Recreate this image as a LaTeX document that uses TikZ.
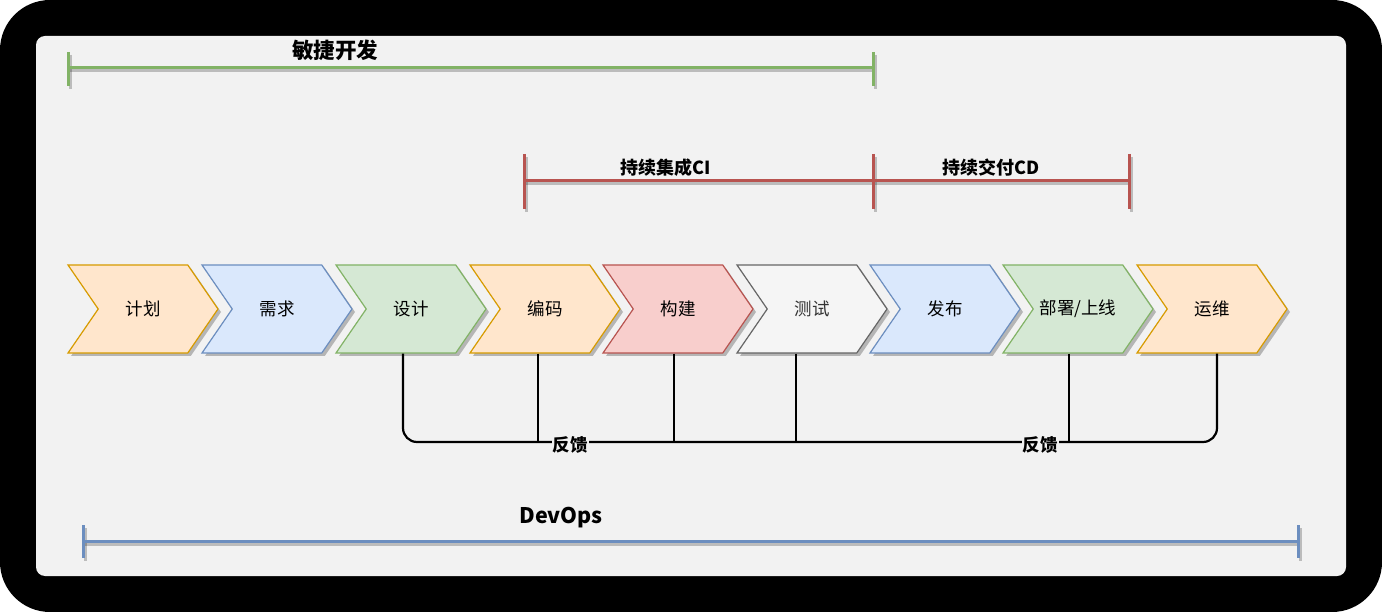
\documentclass[tikz,border=0pt]{standalone}
\usepackage{fontspec}
\setmainfont{Noto Sans CJK SC}
\usetikzlibrary{shapes.symbols,shadows}
\definecolor{bgc}{HTML}{F2F2F2}
\definecolor{orF}{HTML}{FFE6CC}\definecolor{orD}{HTML}{D79B00}
\definecolor{blF}{HTML}{DAE8FC}\definecolor{blD}{HTML}{6C8EBF}
\definecolor{grF}{HTML}{D5E8D4}\definecolor{grD}{HTML}{82B366}
\definecolor{rdF}{HTML}{F8CECC}\definecolor{rdD}{HTML}{B85450}
\definecolor{gyF}{HTML}{F5F5F5}\definecolor{gyD}{HTML}{666666}
\tikzset{
  chev/.style={signal, signal to=east, signal from=west, signal pointer angle=111,
    minimum width=150pt, minimum height=88pt, inner sep=0pt, line width=1.2pt,
    font=\fontsize{17.5}{17.5}\selectfont,
    drop shadow={shadow xshift=3pt, shadow yshift=-3pt, opacity=0.25, fill=black}},
  orC/.style={chev, fill=orF, draw=orD},
  blC/.style={chev, fill=blF, draw=blD},
  grC/.style={chev, fill=grF, draw=grD},
  rdC/.style={chev, fill=rdF, draw=rdD},
  gyC/.style={chev, fill=gyF, draw=gyD, text=black!80},
  title/.style={font=\fontsize{21.5}{21.5}\selectfont\bfseries, inner sep=1pt},
  subtitle/.style={font=\fontsize{18}{18}\selectfont\bfseries, inner sep=1pt},
  fb/.style={line width=2.2pt, black},
  fblabel/.style={fill=bgc, font=\fontsize{17.5}{17.5}\selectfont\bfseries, inner sep=1pt},
  span/.style={line width=3pt},
  shd/.style={line width=3pt, black, opacity=0.22},
}
\begin{document}
\begin{tikzpicture}[x=1pt,y=-1pt]
\useasboundingbox (0,0) rectangle (1382,612);
\fill[white] (0,0) rectangle (1382,612);
\fill[black, rounded corners=50pt] (0,0) rectangle (1382,612);
\fill[bgc, rounded corners=9pt] (36,36) rectangle (1346,576);

% spans
\coordinate (agA) at (68,68); \coordinate (agB) at (873,68);
\coordinate (ciA) at (524,181); \coordinate (ciB) at (873,181);
\coordinate (cdB) at (1129,181);
\coordinate (doA) at (83,541); \coordinate (doB) at (1298,541);

\foreach \a/\b in {agA/agB,ciA/cdB,doA/doB}{
  \draw[shd] ([shift={(2pt,-3pt)}]\a) -- ([shift={(2pt,-3pt)}]\b);}
\draw[shd] ([shift={(2pt,-3pt)}]agA) ++(0,-16) -- ++(0,34);
\draw[shd] ([shift={(2pt,-3pt)}]agB) ++(0,-16) -- ++(0,34);
\foreach \c in {ciA,ciB,cdB}{\draw[shd] ([shift={(2pt,-3pt)}]\c) ++(0,-27) -- ++(0,55);}
\draw[shd] ([shift={(2pt,-3pt)}]doA) ++(0,-16) -- ++(0,33);
\draw[shd] ([shift={(2pt,-3pt)}]doB) ++(0,-16) -- ++(0,33);

\draw[span, grD] (agA) -- (agB);
\draw[span, grD] (agA) ++(0,-16) -- ++(0,34);
\draw[span, grD] (agB) ++(0,-16) -- ++(0,34);
\draw[span, rdD] (ciA) -- (cdB);
\foreach \c in {ciA,ciB,cdB}{\draw[span, rdD] (\c) ++(0,-27) -- ++(0,55);}
\draw[span, blD] (doA) -- (doB);
\draw[span, blD] (doA) ++(0,-16) -- ++(0,33);
\draw[span, blD] (doB) ++(0,-16) -- ++(0,33);

\node[title] (tAg) at (335,50) {敏捷开发};
\node[subtitle] (tCI) at (666,168) {持续集成CI};
\node[subtitle] (tCD) at (991,168) {持续交付CD};
\node[title] (tDO) at (561,518) {DevOps};

% chevrons
\node[orC] (plan)   at (143,309) {计划};
\node[blC] (req)    at (277,309) {需求};
\node[grC] (design) at (411,309) {设计};
\node[orC] (code)   at (545,309) {编码};
\node[rdC] (build)  at (678,309) {构建};
\node[gyC] (test)   at (812,309) {测试};
\node[blC] (rel)    at (945,309) {发布};
\node[grC] (deploy) at (1078,309) {部署/上线};
\node[orC] (ops)    at (1212,309) {运维};

% feedback bus
\coordinate (busL) at (403,442);
\coordinate (busR) at (1217,442);
\draw[fb, rounded corners=14pt] ([xshift=-8pt]design.south) -- (busL) -- (busR) -- ([xshift=5pt]ops.south);
\draw[fb] ([xshift=-7pt]code.south) -- ([xshift=-7pt]code.south |- busL);
\draw[fb] ([xshift=-4pt]build.south) -- ([xshift=-4pt]build.south |- busL);
\draw[fb] ([xshift=-16pt]test.south) -- ([xshift=-16pt]test.south |- busL);
\draw[fb] ([xshift=-9pt]deploy.south) -- ([xshift=-9pt]deploy.south |- busL);
\node[fblabel] (fb1) at (570,445) {反馈};
\node[fblabel] (fb2) at (1040,445) {反馈};
\end{tikzpicture}
\end{document}
